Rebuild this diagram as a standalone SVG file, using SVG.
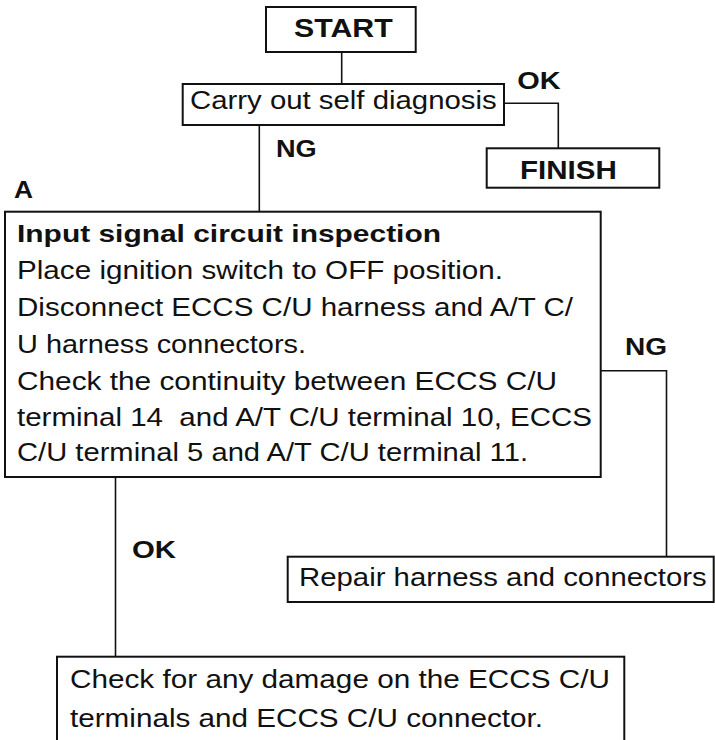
<svg xmlns="http://www.w3.org/2000/svg" width="715" height="740" viewBox="0 0 715 740">
<style>
.box{fill:#fff;stroke:#111;stroke-width:2}
.con{fill:none;stroke:#111;stroke-width:1.6}
.t{font-family:"Liberation Sans",Arial,sans-serif;font-size:26px;fill:#111}
.b{font-family:"Liberation Sans",Arial,sans-serif;font-size:24px;font-weight:bold;fill:#111}
.bt{font-family:"Liberation Sans",Arial,sans-serif;font-size:26px;font-weight:bold;fill:#111}
</style>
<rect width="715" height="740" fill="#fff"/>
<g id="connectors">
<line class="con" x1="341.7" y1="52" x2="341.7" y2="84"/>
<polyline class="con" points="504,103.3 558.3,103.3 558.3,148.3"/>
<line class="con" x1="259.3" y1="125" x2="259.3" y2="211.7"/>
<polyline class="con" points="600.7,370.7 666.5,370.7 666.5,556.7"/>
<line class="con" x1="115.5" y1="477" x2="115.5" y2="656.7"/>
<text class="b" x="517.3" y="89.3" textLength="43.4" lengthAdjust="spacingAndGlyphs">OK</text>
<text class="b" x="276" y="157.3" textLength="40.7" lengthAdjust="spacingAndGlyphs">NG</text>
<text class="b" x="625" y="355" textLength="42" lengthAdjust="spacingAndGlyphs">NG</text>
<text class="b" x="132" y="558" textLength="44" lengthAdjust="spacingAndGlyphs">OK</text>
</g>
<g id="start">
<rect class="box" x="266" y="7" width="149.7" height="45" stroke-width="2.5"/>
<text class="bt" x="294" y="37.3" textLength="98.7" lengthAdjust="spacingAndGlyphs">START</text>
</g>
<g id="self-diagnosis">
<rect class="box" x="182.7" y="84" width="321.3" height="41"/>
<text class="t" x="190" y="109.3" font-size="26.5" textLength="306.7" lengthAdjust="spacingAndGlyphs">Carry out self diagnosis</text>
</g>
<g id="finish">
<rect class="box" x="486.7" y="148.3" width="172.6" height="39.4"/>
<text class="bt" x="520" y="179.3" font-size="25" textLength="96.7" lengthAdjust="spacingAndGlyphs">FINISH</text>
</g>
<g id="input-inspection">
<text class="b" x="14" y="198" font-size="23" textLength="19" lengthAdjust="spacingAndGlyphs">A</text>
<rect class="box" x="5" y="211.7" width="595.7" height="265.3"/>
<text class="b" x="17" y="242" font-size="25.5" textLength="424" lengthAdjust="spacingAndGlyphs">Input signal circuit inspection</text>
<text class="t" x="17" y="279" textLength="486" lengthAdjust="spacingAndGlyphs">Place ignition switch to OFF position.</text>
<text class="t" x="17" y="316" textLength="556" lengthAdjust="spacingAndGlyphs">Disconnect ECCS C/U harness and A/T C/</text>
<text class="t" x="17" y="353" textLength="289" lengthAdjust="spacingAndGlyphs">U harness connectors.</text>
<text class="t" x="17" y="390" textLength="540" lengthAdjust="spacingAndGlyphs">Check the continuity between ECCS C/U</text>
<text class="t" x="17" y="426" textLength="575" lengthAdjust="spacingAndGlyphs" xml:space="preserve">terminal 14  and A/T C/U terminal 10, ECCS</text>
<text class="t" x="17" y="461" textLength="511" lengthAdjust="spacingAndGlyphs">C/U terminal 5 and A/T C/U terminal 11.</text>
</g>
<g id="repair">
<rect class="box" x="287.7" y="556.7" width="426" height="45.3"/>
<text class="t" x="299" y="585.5" textLength="407.7" lengthAdjust="spacingAndGlyphs">Repair harness and connectors</text>
</g>
<g id="check-damage">
<rect class="box" x="57" y="656.7" width="567.3" height="100"/>
<text class="t" x="70" y="688.3" textLength="540" lengthAdjust="spacingAndGlyphs">Check for any damage on the ECCS C/U</text>
<text class="t" x="70" y="726.7" textLength="473" lengthAdjust="spacingAndGlyphs">terminals and ECCS C/U connector.</text>
</g>
</svg>
